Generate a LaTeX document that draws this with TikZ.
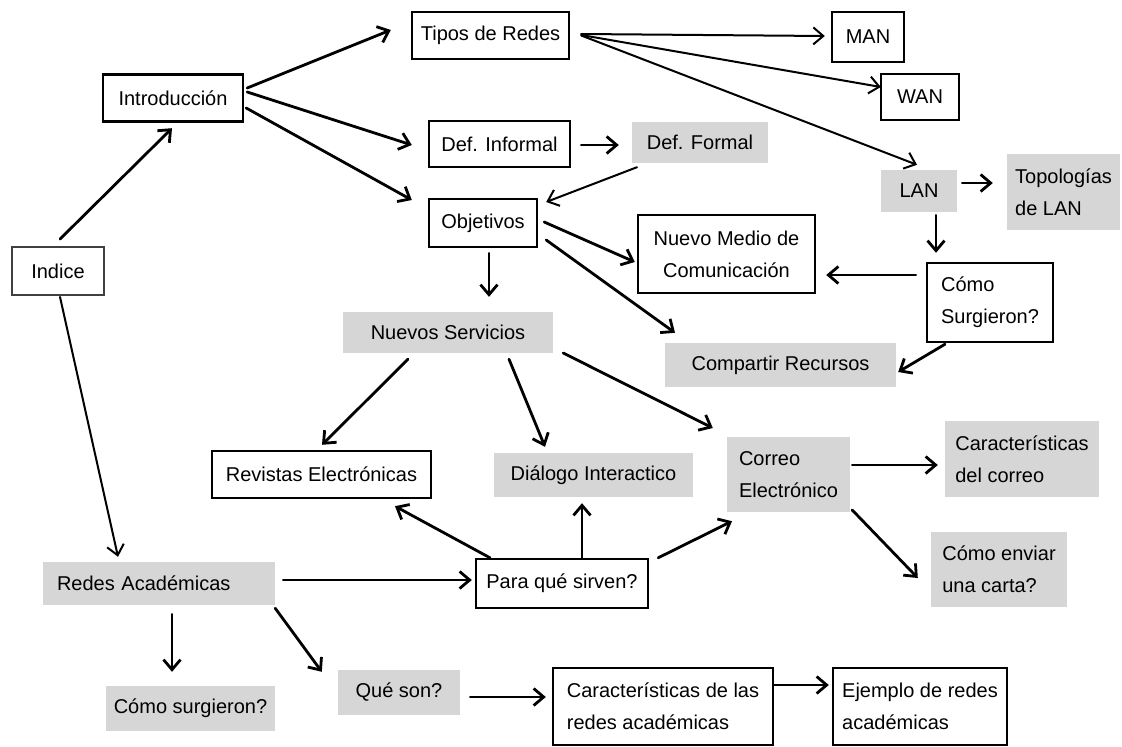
\documentclass[tikz,border=0pt]{standalone}
\usepackage{fontspec}
\setmainfont{Liberation Sans}
\usetikzlibrary{arrows.meta,calc}
\definecolor{shade}{RGB}{214,214,214}
\begin{document}
\begin{tikzpicture}[x=1pt,y=-1pt,
  every node/.style={font=\fontsize{20}{32}\selectfont, inner sep=0pt, text=black},
  wbox/.style={draw=black, line width=2.4pt, fill=white},
  gbox/.style={fill=shade},
  arr/.style={line width=2.8pt, line cap=round, -{Straight Barb[length=10pt,width=17pt]}},
  tarr/.style={line width=2pt, line cap=round, -{Straight Barb[length=10pt,width=17pt]}}]
\useasboundingbox (0,0) rectangle (1122,747);

% nodes
\node[wbox, draw=black!75, line width=1.8pt, minimum width=92pt, minimum height=48pt] (indice) at (58,271) {Indice};
\node[wbox, minimum width=140pt, minimum height=47pt] (intro) at (173,98) {Introducción};
\node[wbox, minimum width=157pt, minimum height=47pt] (tipos) at (490.5,35.5) {Tipos de Redes};
\node[wbox, minimum width=72pt, minimum height=50pt] (man) at (868,37) {MAN};
\node[wbox, minimum width=78pt, minimum height=46pt] (wan) at (920,97) {WAN};
\node[wbox, minimum width=141pt, minimum height=46pt] (definf) at (499.5,144) {Def. Informal};
\node[gbox, minimum width=136pt, minimum height=41pt] (defform) at (700,142.5) {Def. Formal};
\node[wbox, minimum width=108pt, minimum height=48pt] (obj) at (483,223) {Objetivos};
\node[wbox, align=center, minimum width=177pt, minimum height=78pt] (nuevo) at (726.5,254) {Nuevo Medio de\\Comunicación};
\node[gbox, minimum width=76pt, minimum height=42pt] (lan) at (919,191) {LAN};
\node[gbox, align=left, minimum width=113pt, minimum height=76pt] (topo) at (1063.5,192) {Topologías\\de LAN};
\node[wbox, align=left, minimum width=126pt, minimum height=79pt] (comosurg) at (990,302.5) {Cómo\\Surgieron?};
\node[gbox, minimum width=210pt, minimum height=41pt] (nserv) at (448,332.5) {Nuevos Servicios};
\node[gbox, minimum width=231pt, minimum height=44pt] (compartir) at (780.5,365) {Compartir Recursos};
\node[wbox, minimum width=219pt, minimum height=47pt] (revistas) at (321.5,474.5) {Revistas Electrónicas};
\node[gbox, minimum width=199pt, minimum height=44pt] (dialogo) at (593.5,475) {Diálogo Interactico};
\node[gbox, align=left, minimum width=123pt, minimum height=75pt] (correo) at (788.5,474.5) {Correo\\Electrónico};
\node[gbox, align=left, minimum width=154pt, minimum height=76pt] (carcorreo) at (1022,459) {Características\\del correo};
\node[gbox, align=left, minimum width=136pt, minimum height=75pt] (enviar) at (999,569.5) {Cómo enviar\\una carta?};
\node[gbox, align=left, text width=204pt, inner xsep=14pt, minimum height=43pt] (redes) at (159,583.5) {Redes Académicas};
\node[gbox, minimum width=169pt, minimum height=45pt] (comosurg2) at (190.5,708.5) {Cómo surgieron?};
\node[gbox, minimum width=122pt, minimum height=45pt] (queson) at (399,692.5) {Qué son?};
\node[wbox, minimum width=172pt, minimum height=49pt] (paraque) at (562,583.5) {Para qué sirven?};
\node[wbox, align=left, minimum width=220pt, minimum height=77pt] (carac) at (663,706.5) {Características de las\\redes académicas};
\node[wbox, align=left, minimum width=174pt, minimum height=77pt] (ejemplo) at (920,706.5) {Ejemplo de redes\\académicas};

% connectors
\draw[arr] ($(indice.north)+(2,-7)$) -- ($(intro.south)+(-1,5.5)$);
\draw[tarr] ($(indice.south)+(2,1)$) -- ($(redes.north)+(-41,-5)$);
\draw[arr] ($(intro.east)+(3,-10)$) -- ($(tipos.west)+(-20,-5.5)$);
\draw[arr] ($(intro.east)+(3,-6)$) -- ($(definf.west)+(-16,1)$);
\draw[arr] ($(intro.east)+(2,10)$) -- ($(obj.west)+(-16,-23)$);
\draw[tarr] ($(tipos.east)+(11,-1.5)$) -- ($(man.west)+(-6,-1)$);
\draw[tarr] ($(tipos.east)+(11,-0.5)$) -- ($(wan.west)+(1,-10)$);
\draw[tarr] ($(tipos.east)+(11,0)$) -- ($(lan.north)+(-2,-5)$);
\draw[arr] ($(definf.east)+(10,1)$) -- ($(defform.west)+(-13,2.5)$);
\draw[tarr] ($(defform.south)+(-63,4)$) -- ($(obj.east)+(8,-21)$);
\draw[arr] ($(obj.east)+(6,-1)$) -- ($(nuevo.west)+(-2,8)$);
\draw[arr] ($(obj.east)+(8,17)$) -- ($(compartir.north)+(-105.5,-10)$);
\draw[arr] ($(obj.south)+(6,5)$) -- ($(nserv.north)+(41,-15)$);
\draw[arr] ($(lan.east)+(5,-8)$) -- ($(topo.west)+(-14,-9)$);
\draw[arr] ($(lan.south)+(17,3)$) -- ($(comosurg.north)+(-54,-9)$);
\draw[arr] ($(comosurg.west)+(-10,-27.5)$) -- ($(nuevo.east)+(10,21)$);
\draw[arr] ($(comosurg.south)+(-45,1)$) -- ($(compartir.east)+(2,7)$);
\draw[arr] ($(nserv.south)+(-40,6)$) -- ($(revistas.north)+(0.5,-5)$);
\draw[arr] ($(nserv.south)+(61,6)$) -- ($(dialogo.north)+(-48.5,-6)$);
\draw[arr] ($(nserv.east)+(10,20.5)$) -- ($(correo.west)+(-14,-46.5)$);
\draw[arr] ($(correo.east)+(2,-9.5)$) -- ($(carcorreo.west)+(-7,6)$);
\draw[arr] ($(correo.east)+(2,35.5)$) -- ($(enviar.west)+(-13,8.5)$);
\draw[arr] ($(paraque.north)+(-72,0)$) -- ($(revistas.south)+(73.5,7)$);
\draw[arr] ($(paraque.north)+(20,0)$) -- ($(dialogo.south)+(-11.5,6)$);
\draw[arr] ($(paraque.north east)+(9,0)$) -- ($(correo.south)+(-56.5,9)$);
\draw[arr] ($(redes.east)+(8,-3.5)$) -- ($(paraque.west)+(-3,-3.5)$);
\draw[arr] ($(redes.south)+(13,9)$) -- ($(comosurg2.north)+(-18.5,-14)$);
\draw[arr] ($(redes.south east)+(0,3)$) -- ($(queson.north west)+(-16,2)$);
\draw[arr] ($(queson.east)+(10,4.5)$) -- ($(carac.west)+(-6,-9.5)$);
\draw[arr] ($(carac.east)+(0,-21.5)$) -- ($(ejemplo.west)+(-3,-21.5)$);
\end{tikzpicture}
\end{document}
